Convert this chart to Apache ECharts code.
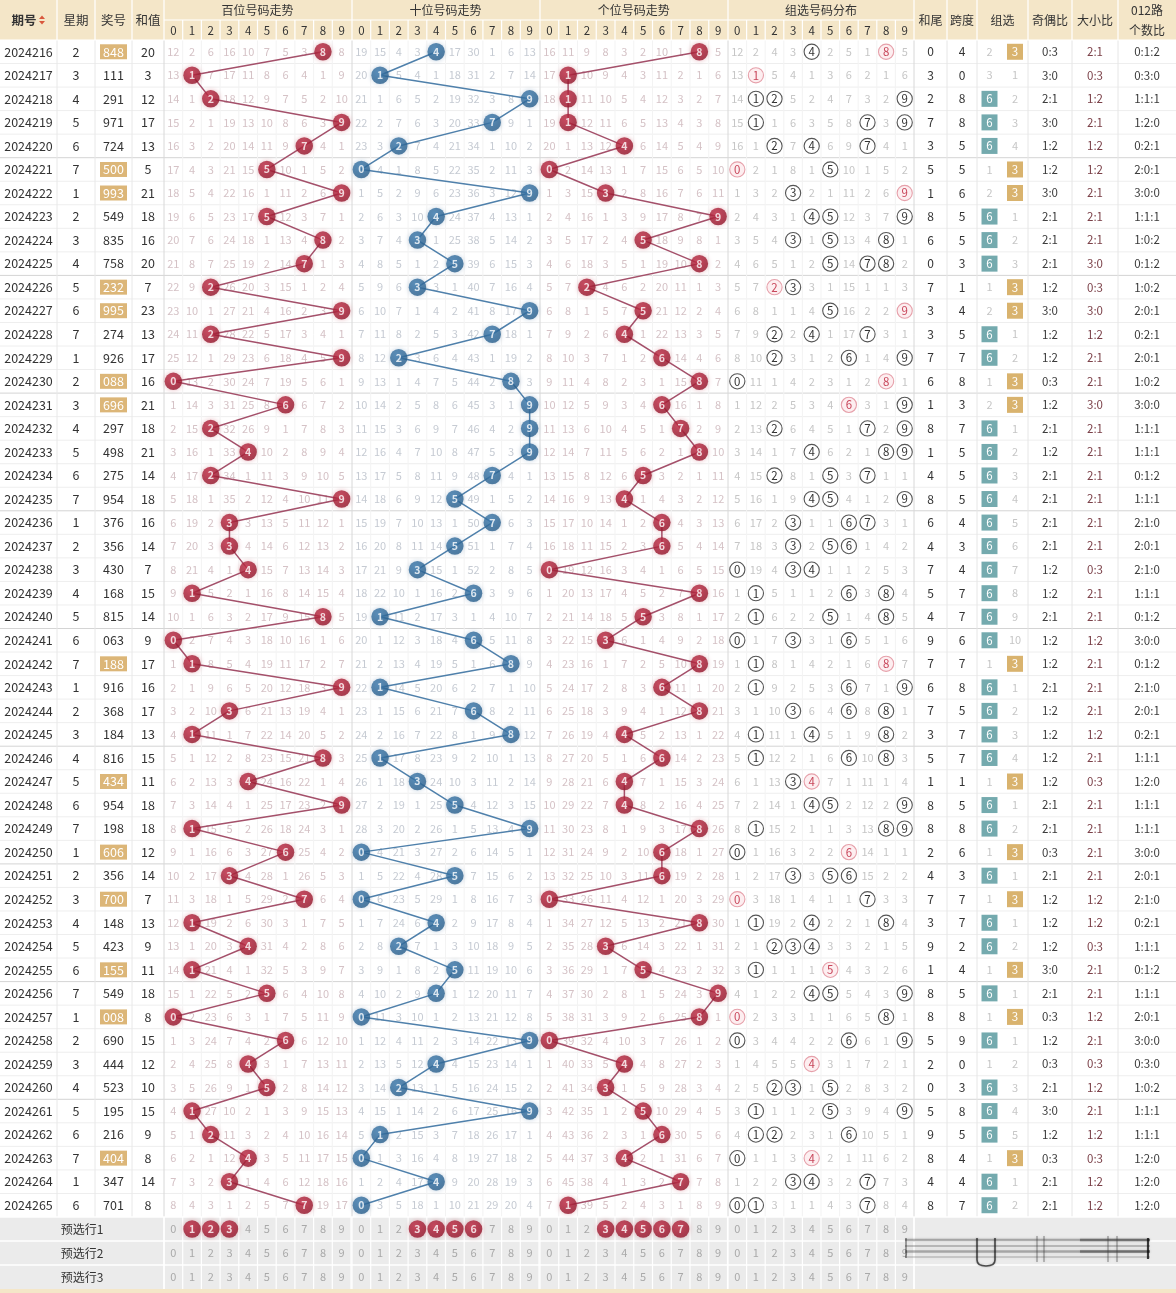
<!DOCTYPE html>
<html><head><meta charset="utf-8">
<script src="https://cdn.jsdelivr.net/npm/echarts@6/dist/echarts.min.js"></script>
<style>html,body{margin:0;padding:0;background:#fff}#c{width:1176px;height:1293px}</style>
</head><body><div id="c"></div>
<script>
// ---------------- DATA ----------------
const periods = ['2024216','2024217','2024218','2024219','2024220','2024221','2024222','2024223','2024224','2024225',
  '2024226','2024227','2024228','2024229','2024230','2024231','2024232','2024233','2024234','2024235',
  '2024236','2024237','2024238','2024239','2024240','2024241','2024242','2024243','2024244','2024245',
  '2024246','2024247','2024248','2024249','2024250','2024251','2024252','2024253','2024254','2024255',
  '2024256','2024257','2024258','2024259','2024260','2024261','2024262','2024263','2024264','2024265'];
const weekdays = [2,3,4,5,6,7,1,2,3,4, 5,6,7,1,2,3,4,5,6,7, 1,2,3,4,5,6,7,1,2,3, 4,5,6,7,1,2,3,4,5,6, 7,1,2,3,4,5,6,7,1,6];
const draws = ['848','111','291','971','724','500','993','549','835','758',
  '232','995','274','926','088','696','297','498','275','954',
  '376','356','430','168','815','063','188','916','368','184',
  '816','434','954','198','606','356','700','148','423','155',
  '549','008','690','444','523','195','216','404','347','701'];
const sums = [20,3,12,17,13,5,21,18,16,20, 7,23,13,17,16,21,18,21,14,18, 16,14,7,15,14,9,17,16,17,13,
  15,11,18,18,12,14,7,13,9,11, 18,8,15,12,10,15,9,8,14,8];
// omission values shown in the first row (0 = hit)
const firstMissBai = [12,2,6,16,10,7,5,3,0,8];
const firstMissShi = [19,15,4,3,0,17,30,1,6,13];
const firstMissGe  = [16,11,9,8,3,2,10,1,0,5];
const firstMissZu  = [12,2,4,3,0,2,5,1,0,5];
const firstMissG6 = 2, firstMissG3 = 0;
// pre-selection rows
const preLabels = ['预选行1','预选行2','预选行3'];
const preBai = [[1,2,3],[],[]];
const preShi = [[3,4,5,6],[],[]];
const preGe  = [[3,4,5,6,7],[],[]];
const headDigits = ['0','1','2','3','4','5','6','7','8','9'];
const sectionTitles = ['百位号码走势','十位号码走势','个位号码走势','组选号码分布'];

// ---------------- LAYOUT / STYLE ----------------
const W = 1176, H = 1293;
const N = periods.length;
const HEAD_H = 40, ROW_H = 23.54, FOOT_H = 24;
const BODY_END = HEAD_H + N * ROW_H;
const FOOT_END = BODY_END + 3 * FOOT_H;
const rowY = i => HEAD_H + (i + 0.5) * ROW_H;
const footY = k => BODY_END + (k + 0.5) * FOOT_H;
const SEC = [{x0:164,w:18.7},{x0:352,w:18.7},{x0:540,w:18.75},{x0:728,w:18.6}];
const digX = (s, d) => SEC[s].x0 + (d + 0.5) * SEC[s].w;
const LC = {qh:[0,57], xq:[57,95], jh:[95,132], hz:[132,164]};
const RC = {hw:[914,947], kd:[947,977], zx:[977,1028], jo:[1028,1072], dx:[1072,1118], lu:[1118,1176]};
const mid = a => (a[0] + a[1]) / 2;
const FONT = '"Noto Sans CJK SC","Noto Sans",sans-serif';
const HEAD_BG = '#f4e6c8';
const MISS_COL = ['#d5c2c6','#c6cbd3','#d5c2c6','#c6c6c6'];
const RED_BALL = {type:'radial',x:0.4,y:0.35,r:0.75,colorStops:[{offset:0,color:'#c23049'},{offset:1,color:'#8c1227'}]};
const BLUE_BALL = {type:'radial',x:0.4,y:0.35,r:0.75,colorStops:[{offset:0,color:'#3f7db0'},{offset:1,color:'#265a86'}]};

// ---------------- DERIVED ----------------
const D = draws.map(s => s.split('').map(Number));
function track(first, hit) {
  const res = [first.slice()];
  for (let i = 1; i < N; i++) res.push(first.map((_, d) => hit(i, d) ? 0 : res[i-1][d] + 1));
  return res;
}
const missBai = track(firstMissBai, (i,d) => D[i][0] === d);
const missShi = track(firstMissShi, (i,d) => D[i][1] === d);
const missGe  = track(firstMissGe,  (i,d) => D[i][2] === d);
const missZu  = track(firstMissZu,  (i,d) => D[i].includes(d));
const missSec = [missBai, missShi, missGe];
const gType = D.map(d => new Set(d).size); // 3 -> 组六, 2 -> 组三, 1 -> 豹子
const missG6 = [firstMissG6], missG3 = [firstMissG3];
for (let i = 1; i < N; i++) {
  missG6.push(gType[i] === 3 ? 0 : missG6[i-1] + 1);
  missG3.push(gType[i] === 2 ? 0 : missG3[i-1] + 1);
}
const jo = D.map(d => { const o = d.filter(x => x % 2).length; return o + ':' + (3 - o); });
const dx = D.map(d => { const b = d.filter(x => x >= 5).length; return b + ':' + (3 - b); });
const lu = D.map(d => [0,1,2].map(r => d.filter(x => x % 3 === r).length).join(':'));
const span = D.map(d => Math.max(...d) - Math.min(...d));

// ---------------- helpers ----------------
function T(api, x, y, str, color, size, weight) {
  const p = api.coord([x, y]);
  return {type:'text', x:p[0], y:p[1], silent:true,
    style:{text:String(str), fill:color, textFill:color, font:(weight||'normal') + ' ' + size + 'px ' + FONT,
      textAlign:'center', textVerticalAlign:'middle', align:'center', verticalAlign:'middle'}};
}
function R(api, x0, y0, x1, y1, fill) {
  const a = api.coord([x0, y0]), b = api.coord([x1, y1]);
  return {type:'rect', silent:true, shape:{x:a[0], y:a[1], width:b[0]-a[0], height:b[1]-a[1]}, style:{fill:fill}};
}
function L(api, x0, y0, x1, y1, color, w, blur) {
  const a = api.coord([x0, y0]), b = api.coord([x1, y1]);
  const st = {stroke:color, lineWidth:w||1};
  if (blur) { st.shadowBlur = blur; st.shadowColor = color; }
  return {type:'line', silent:true, shape:{x1:a[0], y1:a[1], x2:b[0], y2:b[1]}, style:st};
}
function C(api, x, y, r, stroke, fill) {
  const p = api.coord([x, y]);
  return {type:'circle', silent:true, shape:{cx:p[0], cy:p[1], r:r}, style:{stroke:stroke, fill:fill, lineWidth:1.1}};
}

// ---------------- static frame ----------------
function renderFrame(params, api) {
  const ch = [];
  ch.push(R(api, 0, 0, W, HEAD_H, HEAD_BG));
  ch.push(R(api, 0, HEAD_H, W, BODY_END, '#ffffff'));
  ch.push(R(api, 0, BODY_END, W, FOOT_END, '#ebebeb'));
  ch.push(R(api, 0, FOOT_END, W, H, HEAD_BG));
  for (let k = 1; k < N; k++) {
    const y = HEAD_H + k * ROW_H;
    ch.push(L(api, 0, y, W, y, k % 5 === 0 ? '#d4d4d4' : '#eeeeee', 1));
  }
  [57,95,132].forEach(x => ch.push(L(api, x, HEAD_H, x, BODY_END, '#e8e8e8')));
  SEC.forEach((s) => {
    for (let d = 1; d < 10; d++) { const x = s.x0 + d * s.w; ch.push(L(api, x, HEAD_H, x, BODY_END, '#f3f3f3')); }
  });
  [164,352,540,728,914].forEach(x => ch.push(L(api, x, HEAD_H, x, BODY_END, '#d8d8d8')));
  [947,977,1028,1072,1118].forEach(x => ch.push(L(api, x, HEAD_H, x, BODY_END, '#e6e6e6')));
  ch.push(L(api, 164, 20, 914, 20, '#ffffff', 1.2));
  ch.push(L(api, 0, HEAD_H, W, HEAD_H, '#ffffff', 1.2));
  [57,95,132,164,352,540,728,914,947,977,1028,1072,1118].forEach(x => ch.push(L(api, x, 0, x, HEAD_H, '#ffffff', 1.2)));
  SEC.forEach(s => { for (let d = 1; d < 10; d++) { const x = s.x0 + d * s.w; ch.push(L(api, x, 20, x, HEAD_H, '#ffffff', 1.2)); } });
  ch.push(T(api, 24, 20, '期号', '#333', 12.5, 'bold'));
  const up = [api.coord([39,19]), api.coord([45,19]), api.coord([42,15.5])];
  const dn = [api.coord([39,21]), api.coord([45,21]), api.coord([42,24.5])];
  ch.push({type:'polygon', silent:true, shape:{points:up}, style:{fill:'#d9573c'}});
  ch.push({type:'polygon', silent:true, shape:{points:dn}, style:{fill:'#d9573c'}});
  ch.push(T(api, mid(LC.xq), 20, '星期', '#333', 12.5));
  ch.push(T(api, mid(LC.jh), 20, '奖号', '#333', 12.5));
  ch.push(T(api, mid(LC.hz), 20, '和值', '#333', 12.5));
  SEC.forEach((s, si) => {
    ch.push(T(api, s.x0 + 5 * s.w, 10, sectionTitles[si], '#333', 12));
    headDigits.forEach((t, d) => ch.push(T(api, digX(si, d), 30.5, t, '#333', 11.5)));
  });
  ch.push(T(api, mid(RC.hw), 20, '和尾', '#333', 12));
  ch.push(T(api, mid(RC.kd), 20, '跨度', '#333', 12));
  ch.push(T(api, mid(RC.zx), 20, '组选', '#333', 12));
  ch.push(T(api, mid(RC.jo), 20, '奇偶比', '#333', 12));
  ch.push(T(api, mid(RC.dx), 20, '大小比', '#333', 12));
  ch.push(T(api, mid(RC.lu), 10, '012路', '#333', 12));
  ch.push(T(api, mid(RC.lu), 30, '个数比', '#333', 12));
  for (let k = 1; k < 3; k++) { const y = BODY_END + k * FOOT_H; ch.push(L(api, 0, y, W, y, '#ffffff', 1.5)); }
  ch.push(L(api, 0, BODY_END, W, BODY_END, '#ffffff', 1.5));
  [164,914].forEach(x => ch.push(L(api, x, BODY_END, x, FOOT_END, '#ffffff', 1.5)));
  SEC.forEach(s => { for (let d = 0; d <= 10; d++) { const x = s.x0 + d * s.w; ch.push(L(api, x, BODY_END, x, FOOT_END, '#ffffff', 1.2)); } });
  preLabels.forEach((lab, k) => {
    ch.push(T(api, 82, footY(k), lab, '#333', 12));
    const picks = [preBai[k], preShi[k], preGe[k]];
    for (let si = 0; si < 4; si++) {
      for (let d = 0; d < 10; d++) {
        if (si < 3 && picks[si].includes(d)) continue;
        ch.push(T(api, digX(si, d), footY(k), d, '#a9a9a9', 11));
      }
    }
  });
  // smudged artwork in the footer's right block
  const sm = [[1240,'rgba(60,60,60,0.35)',2.4],[1246,'rgba(80,80,80,0.3)',2.2],[1251.5,'rgba(60,60,60,0.35)',2.4],[1257,'rgba(100,100,100,0.25)',2]];
  sm.forEach(s => ch.push(L(api, 905, s[0], 1150, s[0], s[1], s[2], 3)));
  ch.push(L(api, 1080, 1240, 1150, 1240, 'rgba(30,30,30,0.35)', 2.4, 2));
  ch.push(L(api, 1080, 1251.5, 1150, 1251.5, 'rgba(30,30,30,0.35)', 2.4, 2));
  const u0 = api.coord([977,1238]), u1 = api.coord([995,1266]);
  ch.push({type:'path', silent:true, shape:{pathData:'M'+u0[0]+' '+u0[1]+' L'+u0[0]+' '+(u1[1]-6)+' Q'+u0[0]+' '+u1[1]+' '+((u0[0]+u1[0])/2)+' '+u1[1]+' Q'+u1[0]+' '+u1[1]+' '+u1[0]+' '+(u1[1]-6)+' L'+u1[0]+' '+u0[1]}, style:{stroke:'rgba(20,20,20,0.7)', fill:'none', lineWidth:1.6, shadowBlur:2, shadowColor:'rgba(0,0,0,0.4)'}});
  [1037,1044,1108,1117].forEach(x => ch.push(L(api, x, 1236, x, 1262, 'rgba(60,60,60,0.3)', 2, 3)));
  ch.push(L(api, 1148, 1238, 1148, 1259, 'rgba(0,0,0,0.75)', 2.2));
  ch.push(L(api, 906, 1238, 906, 1258, 'rgba(0,0,0,0.45)', 1.5));
  return {type:'group', children:ch};
}

// ---------------- per-row cells ----------------
function renderRow(params, api) {
  const i = api.value(0);
  const y = rowY(i);
  const d = D[i];
  const ch = [];
  ch.push(T(api, mid(LC.qh), y, periods[i], '#333', 12.5));
  ch.push(T(api, mid(LC.xq), y, weekdays[i], '#333', 12.5));
  if (gType[i] === 2) ch.push(R(api, mid(LC.jh) - 13.5, y - 7.5, mid(LC.jh) + 13.5, y + 7.5, '#dcb678'));
  ch.push(T(api, mid(LC.jh), y, draws[i], gType[i] === 2 ? '#ffffff' : '#333', 12.5));
  ch.push(T(api, mid(LC.hz), y, sums[i], '#333', 12.5));
  for (let si = 0; si < 3; si++) {
    for (let k = 0; k < 10; k++) {
      const m = missSec[si][i][k];
      if (m !== 0) ch.push(T(api, digX(si, k), y, m, MISS_COL[si], 11));
    }
  }
  for (let k = 0; k < 10; k++) {
    const cnt = d.filter(x => x === k).length;
    if (cnt === 0) ch.push(T(api, digX(3, k), y, missZu[i][k], MISS_COL[3], 11));
    else if (cnt === 1) { ch.push(C(api, digX(3, k), y, 7.6, '#555555', 'rgba(255,255,255,0)')); ch.push(T(api, digX(3, k), y, k, '#333', 11.5)); }
    else { ch.push(C(api, digX(3, k), y, 7.6, '#e6a0aa', '#fdeef0')); ch.push(T(api, digX(3, k), y, k, '#c8475b', 11.5)); }
  }
  ch.push(T(api, mid(RC.hw), y, sums[i] % 10, '#333', 12));
  ch.push(T(api, mid(RC.kd), y, span[i], '#333', 12));
  const g6x = 989.5, g3x = 1015;
  if (missG6[i] === 0) { ch.push(R(api, g6x - 8, y - 8, g6x + 8, y + 8, '#74aaae')); ch.push(T(api, g6x, y, '6', '#fff', 11.5)); }
  else ch.push(T(api, g6x, y, missG6[i], '#c6c6c6', 11));
  if (missG3[i] === 0) { ch.push(R(api, g3x - 8, y - 8, g3x + 8, y + 8, '#d9b36e')); ch.push(T(api, g3x, y, '3', '#fff', 11.5)); }
  else ch.push(T(api, g3x, y, missG3[i], '#c6c6c6', 11));
  ch.push(T(api, mid(RC.jo), y, jo[i], '#3a3a3a', 11.5));
  ch.push(T(api, mid(RC.dx), y, dx[i], '#7a3f47', 11.5));
  ch.push(T(api, mid(RC.lu), y, lu[i], '#3a3a3a', 11.5));
  return {type:'group', children:ch};
}

// ---------------- series ----------------
const ballLabel = {show:true, position:'inside', formatter: p => p.value[2], color:'#fff', fontSize:10.5, fontWeight:'bold', fontFamily:FONT};
function ballSeries(data, color, glow) {
  return {type:'scatter', data:data, symbol:'circle', symbolSize:17.5, z:5, silent:true,
    itemStyle:{color:color, shadowBlur:5, shadowColor:glow}, label:ballLabel};
}
function lineSeries(data, color) {
  return {type:'line', data:data, showSymbol:false, symbol:'none', z:4, silent:true,
    lineStyle:{color:color, width:1.5}};
}
const series = [
  {type:'custom', data:[[0]], renderItem:renderFrame, z:1, silent:true},
  {type:'custom', data:periods.map((p, i) => [i]), renderItem:renderRow, z:2, silent:true},
];
const secColors = [['#a4506a', RED_BALL, 'rgba(180,40,60,0.4)'], ['#4f80ab', BLUE_BALL, 'rgba(40,90,140,0.35)'], ['#a4506a', RED_BALL, 'rgba(180,40,60,0.4)']];
for (let si = 0; si < 3; si++) {
  const pts = D.map((d, i) => [digX(si, d[si]), rowY(i), d[si]]);
  series.push(lineSeries(pts.map(p => [p[0], p[1]]), secColors[si][0]));
  series.push(ballSeries(pts, secColors[si][1], secColors[si][2]));
}
const pre = [preBai, preShi, preGe];
const footPts = [];
for (let k = 0; k < 3; k++) for (let si = 0; si < 3; si++) pre[si][k].forEach(dg => footPts.push([digX(si, dg), footY(k), dg]));
series.push(ballSeries(footPts, RED_BALL, 'rgba(180,40,60,0.4)'));

const chart = echarts.init(document.getElementById('c'), null, {renderer:'canvas', width:W, height:H});
chart.setOption({
  animation:false,
  grid:{left:0, right:0, top:0, bottom:0},
  xAxis:{type:'value', min:0, max:W, show:false},
  yAxis:{type:'value', min:0, max:H, inverse:true, show:false},
  series:series
});
</script></body></html>
